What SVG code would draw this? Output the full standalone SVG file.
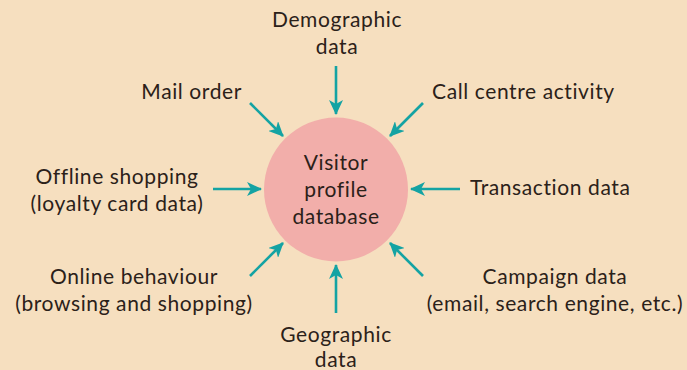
<svg xmlns="http://www.w3.org/2000/svg" width="687" height="370" viewBox="0 0 687 370">
<style>
text{font-family:Lato,"Open Sans","DejaVu Sans",sans-serif;font-size:21px;letter-spacing:0.6px;fill:#2b2119}
.c{text-anchor:middle}
.e{text-anchor:end}
.a{stroke:#14a3a3;stroke-width:2.6;fill:none;marker-end:url(#h)}
</style>
<defs>
<marker id="h" markerUnits="userSpaceOnUse" markerWidth="16" markerHeight="14" viewBox="0 0 16 14" refX="14" refY="7" orient="auto">
<path d="M0,0 L15,7 L0,14 L4,7 Z" fill="#14a3a3"/>
</marker>
</defs>
<rect width="687" height="370" fill="#f6dfbf"/>
<g id="connectors">
<line class="a" x1="336" y1="66" x2="336" y2="114"/>
<line class="a" x1="336" y1="313" x2="336" y2="265"/>
<line class="a" x1="213" y1="189" x2="261" y2="189"/>
<line class="a" x1="460" y1="189" x2="411" y2="189"/>
<line class="a" x1="250" y1="103" x2="283" y2="136"/>
<line class="a" x1="423" y1="103" x2="390" y2="136"/>
<line class="a" x1="250" y1="276" x2="283" y2="243"/>
<line class="a" x1="423" y1="276" x2="390" y2="243"/>
</g>
<g id="center">
<circle cx="336" cy="189.5" r="72" fill="#f2aeaa"/>
<text class="c" x="336" y="170">Visitor</text>
<text class="c" x="336" y="197">profile</text>
<text class="c" x="336" y="224">database</text>
</g>
<g id="demographic"><text class="c" x="337" y="27">Demographic</text><text class="c" x="337" y="54">data</text></g>
<g id="mail"><text class="e" x="242" y="99">Mail order</text></g>
<g id="call"><text x="432" y="99">Call centre activity</text></g>
<g id="offline"><text class="c" x="117" y="184">Offline shopping</text><text class="c" x="117" y="211">(loyalty card data)</text></g>
<g id="transaction"><text x="470" y="195">Transaction data</text></g>
<g id="online"><text class="c" x="134" y="284">Online behaviour</text><text class="c" x="134" y="311">(browsing and shopping)</text></g>
<g id="campaign"><text class="c" x="555" y="284">Campaign data</text><text class="c" x="555" y="311">(email, search engine, etc.)</text></g>
<g id="geographic"><text class="c" x="336" y="342">Geographic</text><text class="c" x="336" y="367">data</text></g>
</svg>
